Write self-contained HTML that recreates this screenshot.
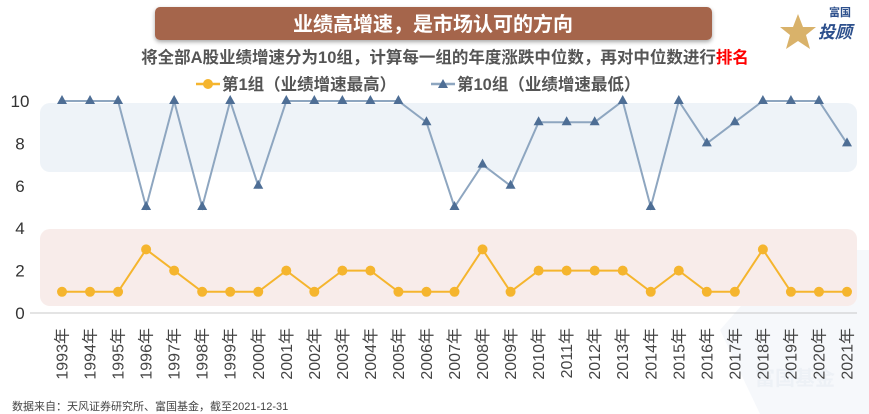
<!DOCTYPE html>
<html><head><meta charset="utf-8"><style>
body{margin:0;width:869px;height:414px;background:#fff;overflow:hidden;font-family:"Liberation Sans","Noto Sans CJK SC",sans-serif;}
</style></head><body>
<svg width="869" height="414" style="position:absolute;left:0;top:0">
<defs><filter id="sh" x="-5%" y="-20%" width="110%" height="160%"><feDropShadow dx="0" dy="2" stdDeviation="2" flood-opacity="0.35"/></filter></defs>
<g opacity="0.15">
<path d="M760 414 L720 330 L790 250 L869 250 L869 414 Z" fill="#c5d3e6"/>
<text x="755" y="385" font-size="20" fill="#8aa4c8" font-weight="bold">富国基金</text>
</g>
<rect x="155" y="7" width="557" height="33" rx="5" fill="#a5654c" filter="url(#sh)"/>
<text x="433" y="31" text-anchor="middle" font-size="20" font-weight="bold" fill="#fff">业绩高增速，是市场认可的方向</text>
<g>
<polygon points="798,14 803,27 816,27 806,35 810,49 798,41 786,49 790,35 780,27 793,27" fill="#d9b26a"/>
<text x="840" y="16" font-size="11" font-weight="bold" fill="#2c4f8c" text-anchor="middle">富国</text>
<text x="818" y="38" font-size="17" font-weight="bold" font-style="italic" fill="#2c4f8c">投顾</text>
</g>
<text x="445" y="63" text-anchor="middle" font-size="16.5" font-weight="bold" fill="#555">将全部A股业绩增速分为10组，计算每一组的年度涨跌中位数，再对中位数进行<tspan fill="#f00">排名</tspan></text>
<g>
<line x1="196" y1="84" x2="220" y2="84" stroke="#f5b52e" stroke-width="2.5"/><circle cx="208" cy="84" r="5" fill="#f5b52e"/>
<text x="222" y="90" font-size="16.5" font-weight="bold" fill="#555">第1组（业绩增速最高）</text>
<line x1="431" y1="84" x2="455" y2="84" stroke="#8ea6c0" stroke-width="2.5"/><polygon points="443,79 448,88 438,88" fill="#4e6e95"/>
<text x="457" y="90" font-size="16.5" font-weight="bold" fill="#555">第10组（业绩增速最低）</text>
</g>
<rect x="40" y="103" width="817" height="69" rx="10" fill="#eef3f8"/>
<rect x="40" y="229" width="817" height="77" rx="10" fill="#f8ecea"/>
<line x1="30" y1="313" x2="857" y2="313" stroke="#c8c8c8" stroke-width="1"/>
<g id="yt"></g><g id="xt"></g><g id="s10"></g><g id="s1"></g>
<text x="12" y="410" font-size="11" fill="#444">数据来自：天风证券研究所、富国基金，截至2021-12-31</text>
</svg>
<script>
const years=[1993,1994,1995,1996,1997,1998,1999,2000,2001,2002,2003,2004,2005,2006,2007,2008,2009,2010,2011,2012,2013,2014,2015,2016,2017,2018,2019,2020,2021];
const group1=[1,1,1,3,2,1,1,1,2,1,2,2,1,1,1,3,1,2,2,2,2,1,2,1,1,3,1,1,1];
const group10=[10,10,10,5,10,5,10,6,10,10,10,10,10,9,5,7,6,9,9,9,10,5,10,8,9,10,10,10,8];
const yTicks=[0,2,4,6,8,10];
const NS="http://www.w3.org/2000/svg";
const x=i=>62+i*(785/(years.length-1));
const y=v=>313-v*21.2;
function mk(t,a,p){const e=document.createElementNS(NS,t);for(const k in a)e.setAttribute(k,a[k]);p.appendChild(e);return e;}
const yt=document.getElementById('yt');
yTicks.forEach(v=>{const t=mk('text',{x:20,y:y(v)+6,'text-anchor':'middle','font-size':17,fill:'#333'},yt);t.textContent=v;

});
const xt=document.getElementById('xt');
years.forEach((yr,i)=>{const t=mk('text',{transform:`translate(${x(i)+5.5},328) rotate(-90)`,'text-anchor':'end','font-size':16,fill:'#444'},xt);t.textContent=yr+'年';

});
function series(g,data,color,mark,name){
 const pl=mk('polyline',{points:data.map((v,i)=>x(i)+','+y(v)).join(' '),fill:'none',stroke:color,'stroke-width':2},g);
 
 
 data.forEach((v,i)=>{let m;
  if(mark==='c')m=mk('circle',{cx:x(i),cy:y(v),r:5,fill:'#f5b52e'},g);
  else m=mk('polygon',{points:`${x(i)},${y(v)-6} ${x(i)+5},${y(v)+3} ${x(i)-5},${y(v)+3}`,fill:'#4e6e95'},g);
  
  });
}
series(document.getElementById('s10'),group10,'#8ea6c0','t','group10');
series(document.getElementById('s1'),group1,'#f5b52e','c','group1');
</script>
</body></html>
